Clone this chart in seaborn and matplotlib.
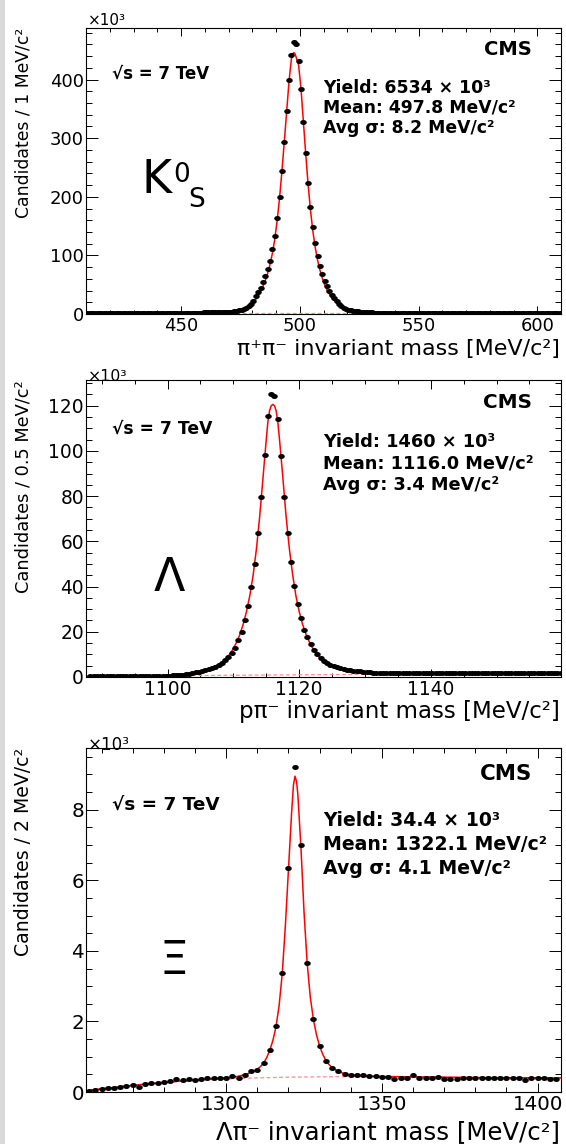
import numpy as np
import matplotlib
matplotlib.use("Agg")
import matplotlib.pyplot as plt
import seaborn as sns
from matplotlib.path import Path
from matplotlib.patches import Rectangle
from matplotlib.ticker import MultipleLocator

# ---------------- data (values in units of 10^3 candidates) ----------------
# K0S panel: 1 MeV bins, centres 410.5 ... 609.5
ks_counts = [
    0.9, 0.9, 1.0, 0.9, 1.0, 1.0, 1.0, 1.0, 1.1, 1.0, 1.1, 1.1, 1.1, 1.1, 1.2, 1.2, 1.2, 1.2, 1.2, 1.3,
    1.3, 1.3, 1.3, 1.4, 1.4, 1.4, 1.4, 1.5, 1.5, 1.5, 1.6, 1.6, 1.6, 1.7, 1.7, 1.7, 1.8, 1.8, 1.9, 1.9,
    2.0, 2.0, 2.1, 2.1, 2.2, 2.3, 2.3, 2.4, 2.5, 2.6, 2.7, 2.8, 2.9, 3.0, 3.1, 3.2, 3.3, 3.4, 3.5, 3.6,
    3.7, 4.1, 4.6, 5.2, 6.0, 7.0, 8.5, 10.5, 13.5, 17.5,
    23, 30, 37, 45, 54, 64, 76, 91, 111, 133,
    164, 200, 244, 294, 346, 400, 442, 464, 461, 432,
    384, 328, 274, 224, 182, 148, 121, 99, 82, 67.5,
    57, 48, 40, 32, 27, 22, 17, 13.5, 11, 9,
    7.6, 6.5, 5.6, 4.9, 4.3, 3.9, 3.5, 3.2, 2.95, 2.75,
    2.6, 2.5, 2.4, 2.3, 2.2, 2.1, 2.0, 2.0, 1.9, 1.9, 1.8, 1.8, 1.7, 1.7, 1.7, 1.6, 1.6, 1.6, 1.5, 1.5,
    1.5, 1.5, 1.5, 1.4, 1.4, 1.4, 1.4, 1.4, 1.3, 1.3, 1.3, 1.3, 1.3, 1.3, 1.3, 1.2, 1.2, 1.2, 1.2, 1.2,
    1.2, 1.2, 1.2, 1.2, 1.1, 1.1, 1.1, 1.1, 1.1, 1.1,
    1.1, 1.1, 1.1, 1.1, 1.1, 1.1, 1.0, 1.0, 1.0, 1.0, 1.0, 1.0, 1.0, 1.0, 1.0, 1.0, 1.0, 1.0, 1.0, 1.0,
    1.0, 1.0, 1.0, 0.9, 1.0, 1.0, 0.9, 1.0, 0.9, 0.9,
]
ks_fit_x = [410, 440, 455, 462, 466, 470.5, 472.5, 474.5, 476.5, 478.5, 480.5, 481.5, 482.5, 483.5,
            484.5, 485.5, 486.5, 487.5, 488.5, 489.5, 490.5, 491.5, 492.5, 493.5, 494.5, 495.5, 496.5,
            497.0, 497.5, 498.0, 498.5, 499.5, 500.5, 501.5, 502.5, 503.5, 504.5, 505.5, 506.5, 507.5,
            508.5, 509.5, 510.5, 511.5, 512.5, 513.5, 514.5, 515.5, 516.5, 517.5, 518.5, 520.5, 522.5,
            525.5, 530, 540, 560, 610]
ks_fit_y = [1.0, 1.5, 2.2, 2.9, 3.5, 4.5, 5.8, 7.5, 10, 14, 20, 25, 31, 38,
            47, 57, 70, 85, 104, 128, 160, 198, 244, 294, 346, 398, 436,
            444, 446, 444, 438, 425, 386, 330, 274, 222, 178, 142, 114, 92,
            75, 61, 50, 41, 34, 28, 23, 19, 16, 13.5, 11.5, 8.5, 6.5,
            4.6, 3.0, 1.9, 1.4, 1.1]
ks_bkg_x = [410, 610]
ks_bkg_y = [1.0, 1.0]

# Lambda panel: 0.5 MeV bins, centres 1088.25 ... 1159.75
lam_counts = [
    0.30, 0.30, 0.31, 0.31, 0.32, 0.32, 0.33, 0.33, 0.34, 0.35, 0.35, 0.36, 0.37, 0.38, 0.39, 0.40,
    0.41, 0.43, 0.45, 0.47, 0.49, 0.52, 0.55, 0.58,
    0.65, 0.75, 0.85, 0.97, 1.1, 1.25, 1.45, 1.7, 2.0, 2.35, 2.7, 3.1, 3.5, 4.0, 4.6, 5.4,
    6.3, 7.4, 8.9, 10.8, 13.0, 16.2, 20.0, 25.2, 31.4, 39.8, 49.9, 63.7, 79.5, 98.2, 115.6,
    125.0, 124.3, 114.0, 97.8, 79.8, 63.7, 51.0, 40.1, 32.2, 26.0, 21.0, 17.6, 14.6, 12.1, 10.3,
    8.6, 7.2, 6.1, 5.3,
    4.8, 4.3, 3.9, 3.6, 3.3, 3.0, 2.8, 2.6, 2.45, 2.3, 2.2, 2.1, 1.95, 1.85, 1.78, 1.72, 1.68, 1.65,
    1.62, 1.62, 1.61, 1.62, 1.62, 1.63, 1.63, 1.62, 1.63, 1.64, 1.64, 1.64, 1.65, 1.65, 1.65, 1.66,
    1.66, 1.67, 1.67, 1.67, 1.68, 1.68, 1.69, 1.69, 1.70, 1.70, 1.70, 1.71, 1.71, 1.72, 1.72, 1.73,
    1.73, 1.74, 1.74, 1.75, 1.75, 1.76, 1.76, 1.77, 1.77, 1.78, 1.78, 1.79, 1.79, 1.80, 1.80, 1.81,
    1.82, 1.82, 1.83, 1.84,
]
lam_fit_x = [1087.6, 1092, 1096, 1098, 1100, 1101, 1102, 1103, 1104, 1105, 1106, 1107, 1108, 1108.5,
             1109, 1109.5, 1110, 1110.5, 1111, 1111.5, 1112, 1112.5, 1113, 1113.5, 1114, 1114.5, 1115,
             1115.25, 1115.5, 1115.75, 1116, 1116.25, 1116.5, 1116.75, 1117, 1117.5, 1118, 1118.5,
             1119, 1119.5, 1120, 1120.5, 1121, 1121.5, 1122, 1122.5, 1123, 1123.5, 1124, 1125, 1126,
             1127, 1128, 1129, 1130, 1132, 1135, 1145, 1160]
lam_fit_y = [0.3, 0.32, 0.37, 0.42, 0.6, 0.78, 1.0, 1.35, 1.85, 2.55, 3.4, 4.5, 6.0, 7.1,
             8.5, 10.3, 12.6, 15.4, 18.9, 23.4, 29, 36, 45, 56.5, 71, 88, 105,
             113, 117.8, 120, 120.6, 120, 117.8, 113, 105.5, 89, 71.5, 57,
             45.5, 36, 29, 23.5, 19.2, 15.8, 13.0, 10.8, 9.0, 7.6, 6.4, 4.8, 3.8,
             3.1, 2.6, 2.3, 2.05, 1.8, 1.65, 1.68, 1.83]
lam_bkg_x = [1087.6, 1160]
lam_bkg_y = [0.3, 1.8]

# Xi panel: 2 MeV bins, centres 1256 ... 1406
xi_counts = [
    0.02, 0.05, 0.08, 0.10, 0.12, 0.14, 0.16, 0.19, 0.14, 0.22,
    0.25, 0.26, 0.29, 0.30, 0.36, 0.33, 0.37, 0.33, 0.36, 0.41,
    0.40, 0.40, 0.40, 0.45, 0.39, 0.49, 0.59, 0.62, 0.83, 1.18,
    1.87, 3.36, 6.35, 9.21, 6.99, 3.66, 2.06,
    1.30, 0.88, 0.69, 0.60, 0.52, 0.49, 0.47, 0.47, 0.45, 0.46,
    0.43, 0.43, 0.38, 0.41, 0.41, 0.48, 0.39, 0.39, 0.39, 0.42,
    0.37, 0.37, 0.37, 0.39, 0.40, 0.41, 0.41, 0.40, 0.40, 0.39,
    0.40, 0.40, 0.40, 0.35, 0.41, 0.41, 0.40, 0.38, 0.37,
]
xi_fit_x = [1255, 1258, 1262, 1266, 1270, 1275, 1280, 1285, 1290, 1295, 1300, 1303, 1305, 1307, 1309,
            1310, 1311, 1312, 1313, 1314, 1315, 1316, 1317, 1318, 1319, 1320, 1321, 1321.6, 1322.1,
            1322.6, 1323, 1324, 1325, 1326, 1327, 1328, 1329, 1330, 1331, 1332, 1333, 1334, 1336,
            1338, 1340, 1345, 1350, 1360, 1380, 1407.5]
xi_fit_y = [0.03, 0.07, 0.11, 0.15, 0.19, 0.23, 0.27, 0.31, 0.34, 0.37, 0.40, 0.43, 0.47, 0.52, 0.60,
            0.65, 0.72, 0.82, 0.97, 1.18, 1.46, 1.85, 2.45, 3.35, 4.7, 6.3, 7.9, 8.7, 8.95,
            8.8, 8.45, 6.95, 5.1, 3.66, 2.7, 2.06, 1.62, 1.3, 1.07, 0.9, 0.78, 0.69, 0.58,
            0.52, 0.48, 0.45, 0.44, 0.43, 0.41, 0.40]
xi_bkg_x = [1255, 1260, 1265, 1270, 1280, 1290, 1300, 1310, 1320, 1330, 1340, 1360, 1380, 1407.5]
xi_bkg_y = [0.03, 0.09, 0.14, 0.18, 0.26, 0.33, 0.37, 0.40, 0.42, 0.43, 0.435, 0.43, 0.41, 0.40]

# ---------------- style ----------------
sns.set_theme(style="ticks")
plt.rcParams["font.family"] = ["DejaVu Sans"]
plt.rcParams["axes.linewidth"] = 0.8

W, H = 566, 1144
fig = plt.figure(figsize=(W / 100, H / 100), dpi=100)
fig.patch.set_facecolor("white")
fig.add_artist(Rectangle((0, 0), 5 / W, 1, transform=fig.transFigure,
                         facecolor="#d9d9d9", edgecolor="none"))

PT = 72 / 100.0  # points per pixel


def axes_px(l, t, r, b):
    return fig.add_axes([l / W, 1 - b / H, (r - l) / W, (b - t) / H])


def ctext(x, ycap, s, size, **kw):
    """place text so that capital letters are centred on pixel row ycap"""
    base = ycap + 0.365 * size / PT
    return fig.text(x / W, 1 - base / H, s, fontsize=size, va="baseline", **kw)


th = np.linspace(0, 2 * np.pi, 41)
ell = Path(np.column_stack([1.3 * np.cos(th), np.sin(th)]), closed=True)

panels = [
    dict(box=(86, 28, 561, 314), x=np.arange(410.5, 610, 1.0), y=ks_counts,
         fx=ks_fit_x, fy=ks_fit_y, bx=ks_bkg_x, by=ks_bkg_y,
         xlim=(410, 610), ylim=(0, 488), xmaj=50, xmin=10, ymaj=100, ymin=20,
         ylabel="Candidates / 1 MeV/c²", xlabel="π⁺π⁻ invariant mass [MeV/c²]",
         yield_="Yield: 6534 × 10³", mean="Mean: 497.8 MeV/c²", sig="Avg σ: 8.2 MeV/c²",
         fs=1.0, xtick_len=8),
    dict(box=(86, 380, 561, 677), x=np.arange(1088.25, 1160, 0.5), y=lam_counts,
         fx=lam_fit_x, fy=lam_fit_y, bx=lam_bkg_x, by=lam_bkg_y,
         xlim=(1087.6, 1159.8), ylim=(0, 131.4), xmaj=20, xmin=5, ymaj=20, ymin=5,
         ylabel="Candidates / 0.5 MeV/c²", xlabel="pπ⁻ invariant mass [MeV/c²]",
         yield_="Yield: 1460 × 10³", mean="Mean: 1116.0 MeV/c²", sig="Avg σ: 3.4 MeV/c²",
         fs=1.03, xtick_len=8.5),
    dict(box=(86, 748, 561, 1092), x=np.arange(1256, 1407, 2.0), y=xi_counts,
         fx=xi_fit_x, fy=xi_fit_y, bx=xi_bkg_x, by=xi_bkg_y,
         xlim=(1255, 1407.5), ylim=(0, 9.75), xmaj=50, xmin=10, ymaj=2, ymin=0.5,
         ylabel="Candidates / 2 MeV/c²", xlabel="Λπ⁻ invariant mass [MeV/c²]",
         yield_="Yield: 34.4 × 10³", mean="Mean: 1322.1 MeV/c²", sig="Avg σ: 4.1 MeV/c²",
         fs=1.1, xtick_len=9.5),
]

text_rows = [
    dict(x10=19, cms=47.7, rs=72.3, st=(86.7, 106.7, 126.7), xt=346.7),
    dict(x10=375.5, cms=400.7, rs=427.3, st=(441.0, 461.7, 483.3), xt=710.0),
    dict(x10=744.0, cms=771.7, rs=802.7, st=(819.0, 843.3, 866.7), xt=1130.0),
]

for p, tr in zip(panels, text_rows):
    l, t, r, b = p["box"]
    ax = axes_px(l, t, r, b)
    sns.lineplot(x=p["bx"], y=p["by"], ax=ax, color="#ff8c8c", lw=0.9,
                 linestyle=(0, (3, 2)), estimator=None, sort=False)
    sns.lineplot(x=p["fx"], y=p["fy"], ax=ax, color="#ff0000", lw=1.1,
                 estimator=None, sort=False)
    sns.scatterplot(x=p["x"], y=p["y"], ax=ax, color="black", s=22, marker=ell,
                    linewidth=0, zorder=3)
    ax.set_xlim(*p["xlim"])
    ax.set_ylim(*p["ylim"])
    ax.set_xlabel("")
    ax.set_ylabel("")
    ax.xaxis.set_major_locator(MultipleLocator(p["xmaj"]))
    ax.xaxis.set_minor_locator(MultipleLocator(p["xmin"]))
    ax.yaxis.set_major_locator(MultipleLocator(p["ymaj"]))
    ax.yaxis.set_minor_locator(MultipleLocator(p["ymin"]))
    for s in ax.spines.values():
        s.set_visible(True)
        s.set_color("black")
        s.set_linewidth(0.8)
    fsz = 13 * p["fs"]
    ax.tick_params(axis="both", which="both", direction="in", top=True, right=True,
                   color="black", width=0.7, labelsize=fsz, labelcolor="black")
    ax.tick_params(axis="x", which="major", length=p["xtick_len"] * PT, pad=2.5)
    ax.tick_params(axis="x", which="minor", length=p["xtick_len"] * 0.5 * PT)
    ax.tick_params(axis="y", which="major", length=12 * PT, pad=1.5)
    ax.tick_params(axis="y", which="minor", length=6 * PT)
    ax.grid(False)
    ax.set_facecolor("white")

    f = p["fs"]
    # axis titles
    fig.text(24 / W, 1 - t / H, p["ylabel"], rotation=90, ha="center", va="top",
             fontsize=12.4 * f, color="black")
    ctext(560, tr["xt"], p["xlabel"], 16 * f, ha="right", color="black")
    # exponent
    ctext(88, tr["x10"], "×10³", 11 * f, ha="left", color="black")
    # labels
    ctext(532, tr["cms"], "CMS", 14 * f, ha="right", fontweight="bold", color="black")
    ctext(112, tr["rs"], "√s = 7 TeV", 12 * f, ha="left", fontweight="bold", color="black")
    for ys, s in zip(tr["st"], (p["yield_"], p["mean"], p["sig"])):
        ctext(323, ys, s, 12.4 * f, ha="left", fontweight="bold", color="black")

# particle symbols
ctext(141, 176, "K", 33, ha="left", color="black")
ctext(173, 172.5, "0", 19, ha="left", color="black")
ctext(188, 197.5, "S", 19, ha="left", color="black")
ctext(154, 574.5, "Λ", 33, ha="left", color="black")
ctext(160, 957, "Ξ", 33, ha="left", color="black")

fig.savefig("out.png", dpi=100)
